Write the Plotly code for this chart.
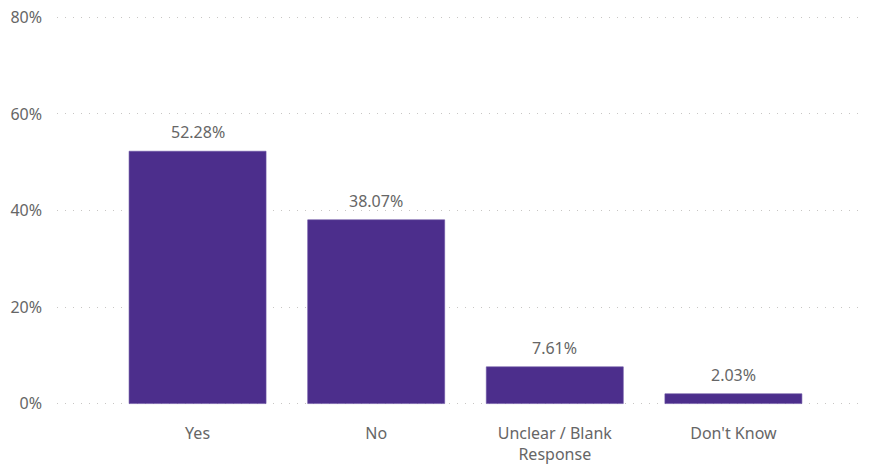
import plotly.graph_objects as go

categories = ["Yes", "No", "Unclear / Blank<br>Response", "Don't Know"]
values = [52.28, 38.07, 7.61, 2.03]
y_ticks = [0, 20, 40, 60, 80]
y_tick_labels = ["0%", "20%", "40%", "60%", "80%"]

x_idx = list(range(len(categories)))

fig = go.Figure(go.Bar(
    x=x_idx,
    y=values,
    width=0.767,
    marker=dict(color="#4C2E8C", line=dict(color="#6A52A3", width=0.6)),
    cliponaxis=False,
))

for xi, v in zip(x_idx, values):
    fig.add_annotation(
        x=xi, y=v, text=f"{v:.2f}%", showarrow=False,
        yanchor="bottom", yshift=6,
        font=dict(family="Noto Sans", size=16, color="#666666"),
    )

fig.update_layout(
    width=869, height=468,
    margin=dict(l=57, r=7, t=15, b=62, autoexpand=False),
    paper_bgcolor="white", plot_bgcolor="white",
    showlegend=False,
    font=dict(family="Noto Sans", size=16, color="#666666"),
)
fig.update_xaxes(
    range=[-0.787, 3.72],
    tickmode="array", tickvals=x_idx, ticktext=categories,
    showgrid=False, zeroline=False, showline=False, ticks="",
    ticklabelstandoff=16, automargin=False,
    tickfont=dict(size=16, color="#666666"),
)
fig.update_yaxes(
    range=[-0.5, 80.5],
    tickmode="array", tickvals=y_ticks, ticktext=y_tick_labels,
    showgrid=True, gridcolor="#C8C6C4", gridwidth=1, griddash="1px,7px",
    zeroline=False, showline=False, ticks="",
    ticklabelstandoff=14, automargin=False,
    tickfont=dict(size=16, color="#666666"),
)

fig.write_html("out.html")
